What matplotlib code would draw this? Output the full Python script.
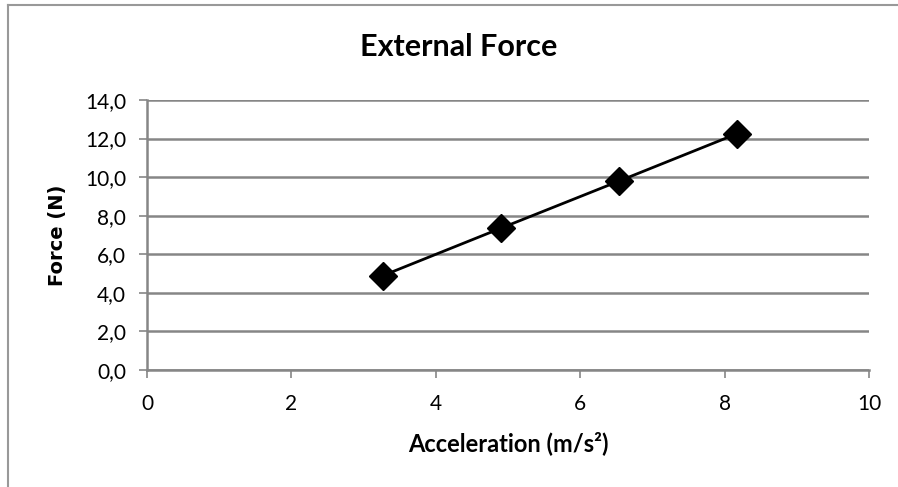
import matplotlib
matplotlib.use("Agg")
import matplotlib.pyplot as plt
from matplotlib.lines import Line2D

# data
acceleration = [3.27, 4.9, 6.54, 8.17]
force = [4.9, 7.35, 9.8, 12.25]

x_ticks = [0, 2, 4, 6, 8, 10]
y_ticks = [0, 2, 4, 6, 8, 10, 12, 14]
y_tick_labels = ["0,0", "2,0", "4,0", "6,0", "8,0", "10,0", "12,0", "14,0"]

grey = "#868686"
W, H = 898, 487
plt.rcParams['font.family'] = ['Lato', 'DejaVu Sans']

fig = plt.figure(figsize=(W / 100, H / 100), dpi=100)
ax = fig.add_axes([147 / W, 1 - 370 / H, 722 / W, 270 / H])

# outer chart frame, only top and left edges show
fig.add_artist(Line2D([8 / W, 1], [1 - 5 / H, 1 - 5 / H], transform=fig.transFigure,
                      color="#999999", linewidth=1.5))
fig.add_artist(Line2D([8 / W, 8 / W], [0, 1 - 5 / H], transform=fig.transFigure,
                      color="#999999", linewidth=1.5))

ax.plot(acceleration, force, color='black', linewidth=2, marker='D',
        markersize=14, markerfacecolor='black', markeredgecolor='black', zorder=3)

ax.set_xlim(0, 10)
ax.set_ylim(0, 14)
ax.set_xticks(x_ticks)
ax.set_yticks(y_ticks)
ax.set_yticklabels(y_tick_labels)
ax.grid(axis='y', color=grey, linewidth=1.8)
ax.set_axisbelow(True)

for side in ['top', 'right']:
    ax.spines[side].set_visible(False)
for side in ['left', 'bottom']:
    ax.spines[side].set_color(grey)
    ax.spines[side].set_linewidth(1.8)

ax.tick_params(axis='both', colors=grey, labelcolor='black', labelsize=15,
               length=6, width=1.2, direction='out')
ax.tick_params(axis='x', pad=11)
ax.tick_params(axis='y', pad=9)

fig.text(459 / W, 1 - 47 / H, "External Force", fontsize=22, fontweight='bold',
         ha='center', va='center')
ax.set_xlabel("Acceleration (m/s²)", fontsize=17, fontweight='bold')
ax.set_ylabel("Force (N)", fontsize=14, fontweight='bold', family='DejaVu Sans')
ax.xaxis.set_label_coords((508 - 147) / 722, (370 - 443) / 270)
ax.yaxis.set_label_coords((57 - 147) / 722, 0.5)
ax.xaxis.label.set_va('center')
ax.yaxis.label.set_va('center')

fig.savefig("out.png", dpi=100)
